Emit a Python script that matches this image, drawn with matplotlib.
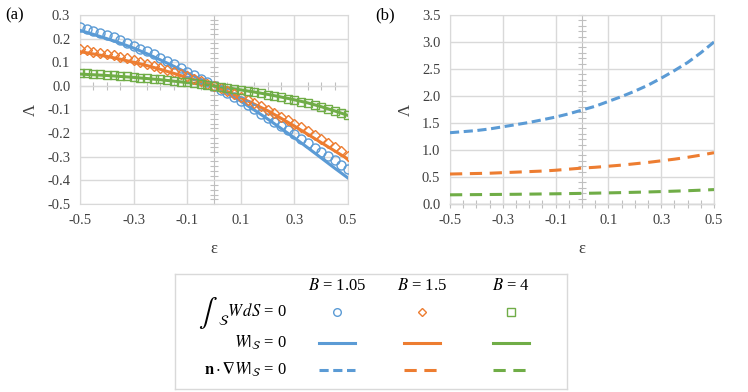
import numpy as np
import matplotlib
matplotlib.use("Agg")
import matplotlib.pyplot as plt

plt.rcParams["font.family"] = ["Liberation Serif", "DejaVu Serif"]
plt.rcParams["mathtext.fontset"] = "stix"

# colours (Excel default palette)
blue = "#5B9BD5"
orange = "#ED7D31"
green = "#70AD47"
grid_c = "#D9D9D9"
axis_c = "#BFBFBF"

# ---- panel (a) data ----
eps_pts = np.arange(-20, 21) / 40.0   # marker positions, every 0.025
eps_line = np.arange(-10, 11) / 20.0  # line positions, every 0.05

circ_105 = [0.250, 0.242, 0.233, 0.224, 0.215, 0.205, 0.194, 0.182, 0.170, 0.158,
            0.146, 0.133, 0.120, 0.106, 0.091, 0.076, 0.060, 0.045, 0.030, 0.015,
            0.000, -0.016, -0.032, -0.048, -0.065, -0.082, -0.099, -0.117, -0.135, -0.152,
            -0.170, -0.187, -0.205, -0.224, -0.242, -0.261, -0.280, -0.297, -0.315, -0.333,
            -0.350]
diam_15 = [0.155, 0.150, 0.145, 0.140, 0.135, 0.129, 0.123, 0.117, 0.110, 0.102,
           0.094, 0.085, 0.075, 0.066, 0.057, 0.049, 0.040, 0.030, 0.020, 0.010,
           0.000, -0.011, -0.022, -0.033, -0.045, -0.058, -0.071, -0.085, -0.100, -0.115,
           -0.130, -0.145, -0.160, -0.176, -0.192, -0.208, -0.225, -0.242, -0.259, -0.277,
           -0.295]
sq_4 = [0.055, 0.053, 0.051, 0.049, 0.047, 0.045, 0.043, 0.041, 0.038, 0.035,
        0.032, 0.030, 0.027, 0.024, 0.021, 0.018, 0.015, 0.011, 0.008, 0.004,
        0.000, -0.004, -0.008, -0.012, -0.017, -0.022, -0.027, -0.032, -0.037, -0.042,
        -0.048, -0.054, -0.060, -0.067, -0.074, -0.082, -0.090, -0.098, -0.106, -0.115,
        -0.123]

dir_105 = [0.235, 0.218, 0.200, 0.181, 0.160, 0.136, 0.110, 0.083, 0.055, 0.028,
           0.000, -0.032, -0.065, -0.102, -0.140, -0.180, -0.220, -0.262, -0.305, -0.348,
           -0.390]
dir_15 = [0.145, 0.135, 0.125, 0.113, 0.100, 0.086, 0.070, 0.053, 0.035, 0.018,
          0.000, -0.024, -0.050, -0.077, -0.105, -0.137, -0.170, -0.205, -0.240, -0.275,
          -0.310]
dir_4 = [0.050, 0.047, 0.044, 0.040, 0.036, 0.031, 0.026, 0.020, 0.014, 0.007,
         0.000, -0.008, -0.017, -0.026, -0.036, -0.047, -0.059, -0.072, -0.088, -0.106,
         -0.125]

# ---- panel (b) data ----
neu_105 = [1.32, 1.34, 1.36, 1.39, 1.43, 1.47, 1.51, 1.56, 1.61, 1.67,
           1.74, 1.81, 1.90, 1.99, 2.09, 2.20, 2.33, 2.47, 2.62, 2.80, 3.00]
neu_15 = [0.555, 0.560, 0.565, 0.570, 0.580, 0.590, 0.600, 0.610, 0.625, 0.645,
          0.665, 0.680, 0.700, 0.720, 0.745, 0.770, 0.800, 0.830, 0.865, 0.905, 0.950]
neu_4 = [0.170, 0.172, 0.174, 0.176, 0.178, 0.180, 0.183, 0.186, 0.189, 0.193,
         0.197, 0.201, 0.206, 0.211, 0.217, 0.223, 0.230, 0.238, 0.246, 0.256, 0.267]

B_labels = ["$B$ = 1.05", "$B$ = 1.5", "$B$ = 4"]
row_labels = [r"$W\,dS$ = 0",
              r"$W|_{\mathcal{S}}$ = 0",
              r"$\mathbf{n}\cdot\boldsymbol{\nabla} W|_{\mathcal{S}}$ = 0"]
colors = [blue, orange, green]
markers = ["o", "D", "s"]
msizes = [6.5, 5.2, 6.3]
dash_styles = [(0, (3, 1.5)), (0, (4, 2.5)), (0, (4, 2.5))]

fig = plt.figure(figsize=(7.48, 3.92), dpi=100)
ax1 = fig.add_axes([80 / 748, 188 / 392, 268 / 748, 189 / 392])
ax2 = fig.add_axes([450 / 748, 188 / 392, 264 / 748, 189 / 392])


def style_axes(ax, ylim, ymajor, yminor):
    ax.set_xlim(-0.5, 0.5)
    ax.set_ylim(*ylim)
    ax.set_xticks(np.arange(-5, 6, 2) / 10)
    ax.set_xticklabels(["-0.5", "-0.3", "-0.1", "0.1", "0.3", "0.5"])
    ax.set_yticks(ymajor)
    ax.set_yticklabels([f"{v:.1f}" for v in ymajor])
    ax.tick_params(length=0, labelsize=10.5, colors="#404040", pad=7)
    ax.grid(True, color=grid_c, lw=1)
    ax.set_axisbelow(True)
    for s in ax.spines.values():
        s.set_color(grid_c)
    # horizontal axis line through y = 0
    zero_frac = (0 - ylim[0]) / (ylim[1] - ylim[0])
    sx = ax.secondary_xaxis(zero_frac)
    sx.set_xticks(np.arange(-10, 11) / 20)
    sx.tick_params(direction="inout", length=6, width=0.8, color=axis_c,
                   labelbottom=False, labeltop=False)
    sx.spines["bottom"].set_color(axis_c)
    sx.spines["top"].set_color(axis_c)
    sx.spines["bottom"].set_linewidth(1)
    # vertical axis line through x = 0
    sy = ax.secondary_yaxis(0.5)
    sy.set_yticks(yminor)
    sy.tick_params(direction="inout", length=6, width=0.8, color=axis_c,
                   labelleft=False, labelright=False)
    sy.spines["left"].set_color(axis_c)
    sy.spines["right"].set_color(axis_c)
    sy.spines["left"].set_linewidth(1.6)
    ax.set_xlabel("ε", fontsize=12, labelpad=10, color="#404040")
    ax.set_ylabel("Λ", fontsize=12, labelpad=6, color="#404040")


style_axes(ax1, (-0.5, 0.3), np.round(np.arange(-5, 4) / 10, 1),
           np.round(np.arange(-25, 16) / 50, 2))
style_axes(ax2, (0.0, 3.5), np.round(np.arange(0, 8) / 2, 1),
           np.round(np.arange(0, 36) / 10, 1))

# panel (a)
for ys, c in zip([dir_105, dir_15, dir_4], colors):
    ax1.plot(eps_line, ys, color=c, lw=2.2, zorder=3)
for ys, c, m, ms in zip([circ_105, diam_15, sq_4], colors, markers, msizes):
    ax1.plot(eps_pts, ys, ls="none", marker=m, ms=ms, mfc="none", mec=c, mew=1, zorder=4)

# panel (b)
for ys, c, d in zip([neu_105, neu_15, neu_4], colors, dash_styles):
    ax2.plot(eps_line, ys, color=c, lw=2.2, ls=d, zorder=3)

fig.text(5 / 748, 1 - 15 / 392, "(a)", fontsize=12, va="center")
fig.text(375 / 748, 1 - 15 / 392, "(b)", fontsize=12, va="center")

# ---- custom legend table ----
lg = fig.add_axes([175 / 748, 1 - 389 / 392, 392 / 748, 115 / 392])
lg.set_xlim(175, 567)
lg.set_ylim(389, 274)
lg.set_xticks([])
lg.set_yticks([])
for s in lg.spines.values():
    s.set_color("#D9D9D9")
    s.set_linewidth(1)

col_x = [337, 422, 511]
row_y = [312, 343, 370]
for cx, lab in zip(col_x, B_labels):
    lg.text(cx, 286, lab, ha="center", va="center", fontsize=12)
for ry, lab in zip(row_y, row_labels):
    lg.text(287, ry, lab, ha="right", va="center", fontsize=12)
# large integral sign in front of the first row label
lg.text(218, 313, r"$\int$", ha="right", va="center", fontsize=20)
lg.text(218, 321, r"$\mathcal{S}$", ha="left", va="center", fontsize=10)
for cx, c, m, ms, d in zip(col_x, colors, markers, msizes, dash_styles):
    lg.plot([cx], [row_y[0]], ls="none", marker=m, ms=ms - 1, mfc="none", mec=c, mew=1)
    lg.plot([cx - 18, cx + 18], [row_y[1]] * 2, color=c, lw=2.2)
    lg.plot([cx - 18, cx + 18], [row_y[2]] * 2, color=c, lw=2.2, ls=d)

fig.savefig("out.png", dpi=100)
